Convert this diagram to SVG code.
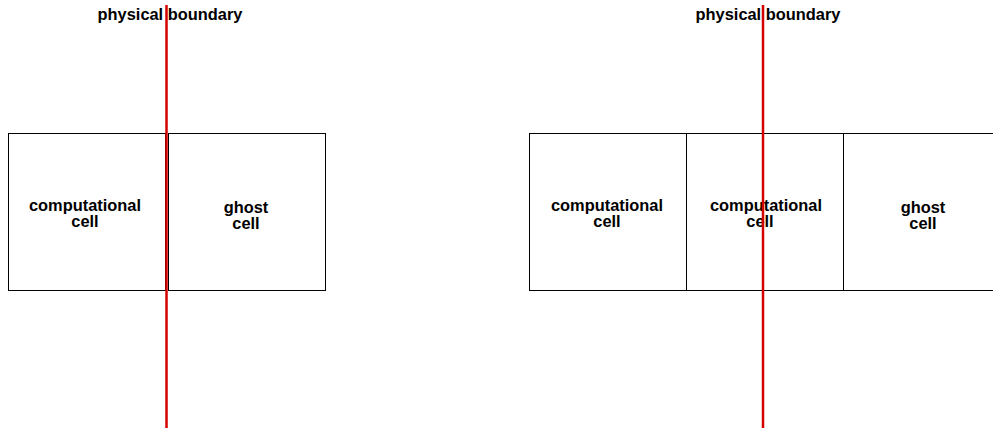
<svg xmlns="http://www.w3.org/2000/svg" width="993" height="428" viewBox="0 0 993 428">
<style>
.cell{fill:#fff;stroke:#000;stroke-width:1}
.lbl{font-family:"Liberation Sans",Arial,sans-serif;font-weight:bold;font-size:16.4px;text-anchor:middle;fill:#000}
.bnd{stroke:#d40000;stroke-width:2.5}
</style>
<rect width="993" height="428" fill="#fff"/>
<g id="left-comp"><rect class="cell" x="8.5" y="133.5" width="157" height="157"/><text class="lbl" x="85" y="211">computational</text><text class="lbl" x="85" y="227">cell</text></g>
<g id="left-ghost"><rect class="cell" x="168.5" y="133.5" width="157" height="157"/><text class="lbl" x="246" y="213">ghost</text><text class="lbl" x="246" y="229">cell</text></g>
<g id="right-comp1"><rect class="cell" x="529.5" y="133.5" width="157" height="157"/><text class="lbl" x="607" y="211">computational</text><text class="lbl" x="607" y="227">cell</text></g>
<g id="right-comp2"><rect class="cell" x="686.5" y="133.5" width="157" height="157"/><text class="lbl" x="766" y="211">computational</text><text class="lbl" x="760" y="227">cell</text></g>
<g id="right-ghost"><rect class="cell" x="843.5" y="133.5" width="157" height="157"/><text class="lbl" x="923" y="213">ghost</text><text class="lbl" x="923" y="229">cell</text></g>
<g id="labels"><text class="lbl" x="170" y="20">physical boundary</text><text class="lbl" x="768" y="20">physical boundary</text></g>
<g id="connectors">
<line class="bnd" x1="166.5" y1="5" x2="166.5" y2="428"/>
<line class="bnd" x1="763" y1="5" x2="763" y2="428"/>
</g>
</svg>
